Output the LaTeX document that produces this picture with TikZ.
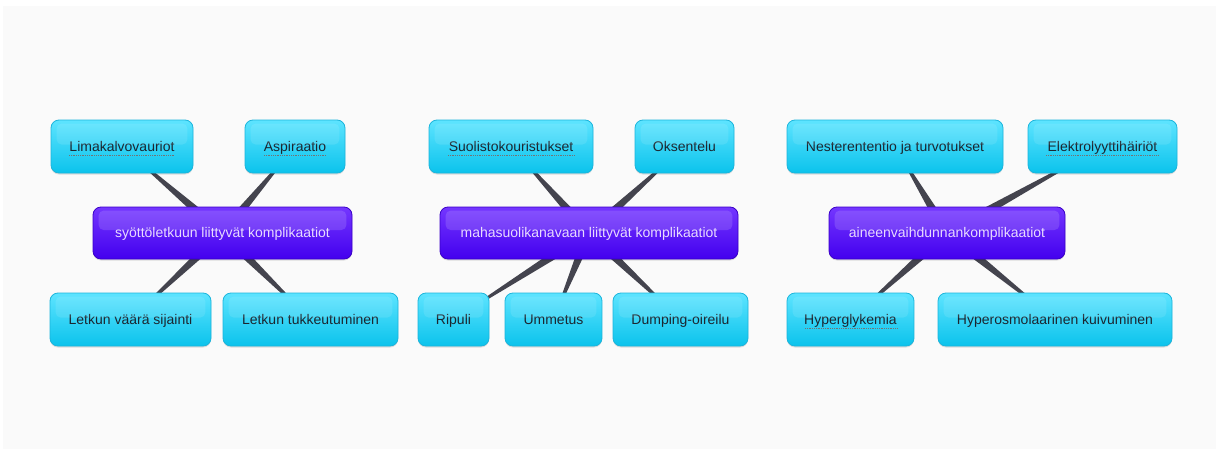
\documentclass[tikz,border=0pt]{standalone}
\usepackage{fontspec}
\setmainfont{Liberation Sans}
\usetikzlibrary{calc,shadows}
\pgfdeclarelayer{back}
\pgfdeclarelayer{bg}
\pgfsetlayers{back,bg,main}
\definecolor{pagegray}{HTML}{FAFAFA}
\definecolor{cyantop}{HTML}{5EE4FF}
\definecolor{cyanbot}{HTML}{0BC3EC}
\definecolor{cyanline}{HTML}{1BB5DC}
\definecolor{purptop}{HTML}{7436FF}
\definecolor{purpbot}{HTML}{4300EE}
\definecolor{purpline}{HTML}{3A00C8}
\definecolor{purptext}{HTML}{E8DAFF}
\definecolor{childtext}{HTML}{1B2630}
\definecolor{wedgecol}{HTML}{44444E}
\tikzset{
  softshadow/.style={drop shadow={shadow xshift=0pt, shadow yshift=-1.5pt, opacity=0.12, fill=black}},
  childbox/.style={rectangle, rounded corners=8pt, draw=cyanline, line width=0.8pt,
    top color=cyantop, bottom color=cyanbot, text=childtext,
    font=\fontsize{14}{16}\selectfont, minimum height=53pt, inner sep=0pt,
    text height=9.5pt, text depth=0pt, softshadow},
  mainbox/.style={rectangle, rounded corners=8pt, draw=purpline, line width=0.8pt,
    top color=purptop, bottom color=purpbot, text=purptext,
    font=\fontsize{14}{16}\selectfont, minimum height=52pt, inner sep=0pt,
    text height=9.5pt, text depth=0pt, softshadow},
  wedge/.style={fill=wedgecol},
  spell/.style={densely dotted, line width=0.8pt, draw=gray!90!black}
}
\begin{document}
\begin{tikzpicture}[x=1pt,y=-1pt]
\useasboundingbox (0,0) rectangle (1216,450);
\begin{pgfonlayer}{back}
\fill[pagegray] (3,6) rectangle (1216,449);
\end{pgfonlayer}

% group 1
\node[mainbox, minimum width=259pt] (c1) at (222.5,233) {syöttöletkuun liittyvät komplikaatiot};
\node[childbox, minimum width=142pt] (lim) at (122,146.5) {Limakalvovauriot};
\node[childbox, minimum width=100pt] (asp) at (295,146.5) {Aspiraatio};
\node[childbox, minimum width=161pt] (lvs) at (130.5,319.5) {Letkun väärä sijainti};
\node[childbox, minimum width=175pt] (ltk) at (310.5,319.5) {Letkun tukkeutuminen};

% group 2
\node[mainbox, minimum width=298pt] (c2) at (589,233) {mahasuolikanavaan liittyvät komplikaatiot};
\node[childbox, minimum width=164pt] (suo) at (511,146.5) {Suolistokouristukset};
\node[childbox, minimum width=99pt] (oks) at (684.5,146.5) {Oksentelu};
\node[childbox, minimum width=71pt] (rip) at (453.5,319.5) {Ripuli};
\node[childbox, minimum width=97pt] (umm) at (553.5,319.5) {Ummetus};
\node[childbox, minimum width=135pt] (dum) at (680.5,319.5) {Dumping-oireilu};

% group 3
\node[mainbox, minimum width=236pt] (c3) at (947,233) {aineenvaihdunnankomplikaatiot};
\node[childbox, minimum width=216pt] (nes) at (895,146.5) {Nesterententio ja turvotukset};
\node[childbox, minimum width=149pt] (ele) at (1102.5,146.5) {Elektrolyyttihäiriöt};
\node[childbox, minimum width=127pt] (hyg) at (850.5,319.5) {Hyperglykemia};
\node[childbox, minimum width=234pt] (hyo) at (1055,319.5) {Hyperosmolaarinen kuivuminen};

% highlights
\foreach \n in {c1,c2,c3}{
  \fill[white, opacity=0.14, rounded corners=5pt] ([xshift=6pt,yshift=-4pt]\n.north west) rectangle ([xshift=-6pt,yshift=3pt]\n.east);
}
\foreach \n in {lim,asp,lvs,ltk,suo,oks,rip,umm,dum,nes,ele,hyg,hyo}{
  \fill[white, opacity=0.10, rounded corners=5pt] ([xshift=6pt,yshift=-4pt]\n.north west) rectangle ([xshift=-6pt,yshift=2pt]\n.east);
}

% connectors
\begin{pgfonlayer}{bg}
\foreach \a/\b in {c1/lim,c1/asp,c1/lvs,c1/ltk,c2/suo,c2/oks,c2/rip,c2/umm,c2/dum,c3/nes,c3/ele,c3/hyg,c3/hyo}{
  \fill[wedge] ($(\a.center)!5pt!90:(\b.center)$) -- ($(\b.center)!0.3pt!-90:(\a.center)$)
    -- ($(\b.center)!0.3pt!90:(\a.center)$) -- ($(\a.center)!5pt!-90:(\b.center)$) -- cycle;
}
\end{pgfonlayer}

% spell-check underlines
\draw[spell] (69,155) -- (175,155);
\draw[spell] (264,155) -- (326,155);
\draw[spell] (448,155) -- (575,155);
\draw[spell] (1046,155) -- (1158,155);
\draw[spell] (805,328) -- (897,328);
\end{tikzpicture}
\end{document}
